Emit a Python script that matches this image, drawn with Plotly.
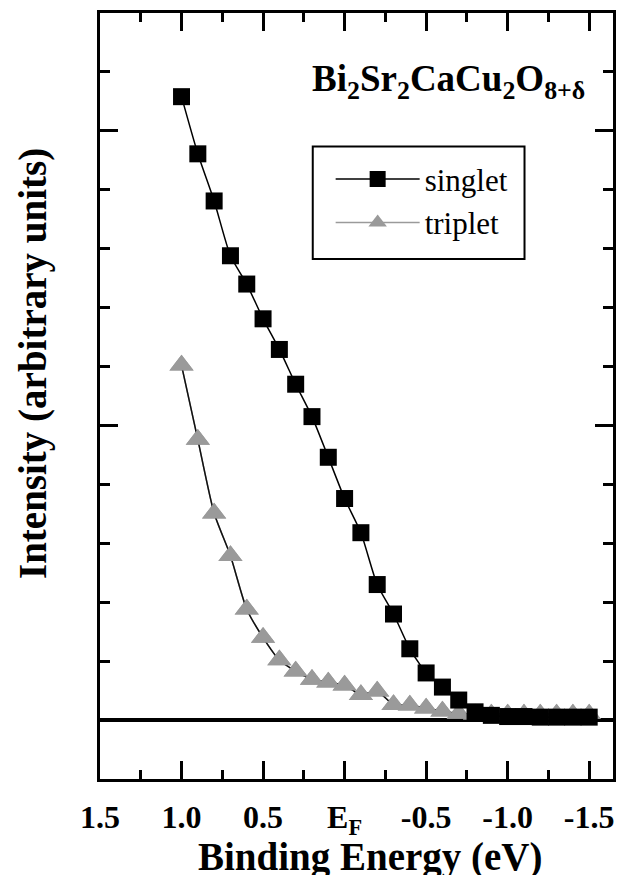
import plotly.graph_objects as go

# ---- data ----
energy = [1.0, 0.9, 0.8, 0.7, 0.6, 0.5, 0.4, 0.3, 0.2, 0.1, 0.0, -0.1, -0.2,
          -0.3, -0.4, -0.5, -0.6, -0.7, -0.8, -0.9, -1.0, -1.1, -1.2, -1.3, -1.4, -1.5]
singlet = [10.58, 9.61, 8.81, 7.88, 7.40, 6.81, 6.29, 5.70, 5.15, 4.46, 3.76, 3.18, 2.30,
           1.80, 1.21, 0.80, 0.56, 0.34, 0.14, 0.08, 0.06, 0.06, 0.05, 0.05, 0.05, 0.05]
triplet = [6.02, 4.76, 3.51, 2.79, 1.88, 1.40, 1.02, 0.83, 0.69, 0.64, 0.59, 0.43, 0.49,
           0.26, 0.25, 0.20, 0.15, 0.11, 0.10, 0.10, 0.10, 0.10, 0.10, 0.10, 0.10, 0.10]

x_tickvals = [1.5, 1.0, 0.5, 0.0, -0.5, -1.0, -1.5]
x_ticktext = ["1.5", "1.0", "0.5", "E<sub>F</sub>", "-0.5", "-1.0", "-1.5"]
y_major = [0, 5, 10]

SERIF = "Liberation Serif"
GRAY = "#9a9a9a"

fig = go.Figure()

# triplet: legend entry (gray line + gray triangles)
fig.add_trace(go.Scatter(
    x=energy, y=triplet, name="triplet", mode="lines+markers",
    line=dict(color=GRAY, width=1.5, shape="spline", smoothing=0.6),
    marker=dict(symbol="triangle-up", size=21, color=GRAY, line=dict(width=0)),
    legendrank=2,
))
# triplet: dark connecting curve in the plot
fig.add_trace(go.Scatter(
    x=energy, y=triplet, mode="lines", showlegend=False, hoverinfo="skip",
    line=dict(color="#111111", width=1.5, shape="spline", smoothing=0.6),
))
# triplet markers on top
fig.add_trace(go.Scatter(
    x=energy, y=triplet, mode="markers", showlegend=False,
    marker=dict(symbol="triangle-up", size=21, color=GRAY, line=dict(width=0)),
))
# singlet
fig.add_trace(go.Scatter(
    x=energy, y=singlet, name="singlet", mode="lines+markers",
    line=dict(color="#000000", width=1.5, shape="spline", smoothing=0.6),
    marker=dict(symbol="square", size=17, color="#000000", line=dict(width=0)),
    legendrank=1,
))

# page body adds an 8px offset; figure sized to fit the 626x883 window
OFF = 8
W, H = 610, 867
ML, MR, MT, MB = 92, 2, 2, 96
pw = W - ML - MR
ph = H - MT - MB


def px(xs):
    return (xs - OFF - ML) / pw


def py(ys):
    return (H - MB - (ys - OFF)) / ph


fig.update_layout(
    width=W, height=H,
    margin=dict(l=ML, r=MR, t=MT, b=MB),
    paper_bgcolor="white", plot_bgcolor="white",
    font=dict(family=SERIF, color="black"),
    showlegend=True,
    legend=dict(
        x=px(332), y=py(150), xanchor="left", yanchor="top",
        bgcolor="rgba(0,0,0,0)", borderwidth=0,
        font=dict(family=SERIF, size=31, color="black"),
        itemwidth=84, tracegroupgap=0,
    ),
    xaxis=dict(
        range=[1.5, -1.646], showgrid=False, zeroline=False,
        showline=True, linecolor="black", linewidth=3, mirror="ticks",
        tickmode="array", tickvals=x_tickvals, ticktext=x_ticktext,
        ticks="inside", ticklen=18, tickwidth=2.5, tickcolor="black",
        ticklabelstandoff=8,
        tickfont=dict(family=SERIF, size=32, color="black", weight="bold"),
        minor=dict(ticks="inside", ticklen=9, tickwidth=2.5, tickcolor="black",
                   dtick=0.25, tick0=0),
    ),
    yaxis=dict(
        range=[-1, 12], showgrid=False,
        zeroline=True, zerolinecolor="black", zerolinewidth=3.5,
        showline=True, linecolor="black", linewidth=3, mirror="ticks",
        tickmode="array", tickvals=y_major, showticklabels=False,
        ticks="inside", ticklen=18, tickwidth=2.5, tickcolor="black",
        minor=dict(ticks="inside", ticklen=10, tickwidth=2.5, tickcolor="black",
                   dtick=1, tick0=0),
    ),
    shapes=[dict(
        type="rect", xref="paper", yref="paper",
        x0=px(314), x1=px(527), y0=py(257), y1=py(144),
        line=dict(color="black", width=2), fillcolor="rgba(0,0,0,0)", layer="above",
    )],
    annotations=[
        dict(text="Bi<sub>2</sub>Sr<sub>2</sub>CaCu<sub>2</sub>O<sub>8+δ</sub>",
             xref="paper", yref="paper", x=px(590), y=py(79),
             xanchor="right", yanchor="middle", showarrow=False,
             font=dict(family=SERIF, size=37, color="black", weight="bold")),
        dict(text="Binding Energy (eV)", xref="paper", yref="paper",
             x=px(372), y=py(857), xanchor="center", yanchor="middle",
             showarrow=False,
             font=dict(family=SERIF, size=39, color="black", weight="bold")),
        dict(text="Intensity (arbitrary units)", xref="paper", yref="paper",
             x=px(32), y=py(362), xanchor="center", yanchor="middle",
             textangle=-90, showarrow=False,
             font=dict(family=SERIF, size=39, color="black", weight="bold")),
    ],
)

fig.write_html("out.html")
